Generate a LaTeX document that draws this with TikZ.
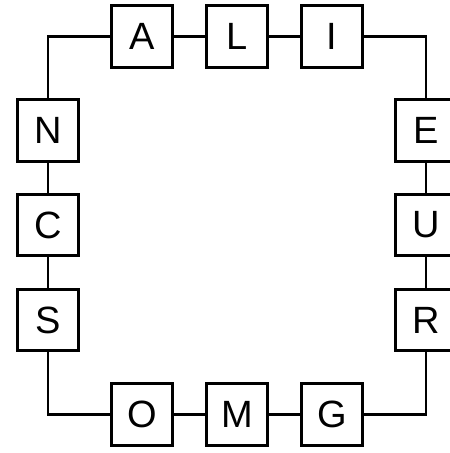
\documentclass[tikz,border=0pt]{standalone}
\usepackage{fontspec}
\setmainfont{Liberation Sans}
\begin{document}
\begin{tikzpicture}[x=1pt,y=-1pt,
  lbox/.style={draw,line width=2.6pt,minimum size=61.5pt,inner sep=0pt,font=\fontsize{38}{40}\selectfont,fill=white},
  link/.style={line width=2.6pt}]
\useasboundingbox (0,0) rectangle (450,453);
\clip (0,0) rectangle (450,453);
\node[lbox] (A) at (142,36.5) {A};
\node[lbox] (L) at (237,36.5) {L};
\node[lbox] (I) at (332,36.5) {I};
\node[lbox] (N) at (48,130.5) {N};
\node[lbox] (C) at (48,225) {C};
\node[lbox] (S) at (48,320) {S};
\node[lbox] (E) at (426,130.5) {E};
\node[lbox] (U) at (426,225) {U};
\node[lbox] (R) at (426,320) {R};
\node[lbox] (O) at (142,414.5) {O};
\node[lbox] (M) at (237,414.5) {M};
\node[lbox] (G) at (332,414.5) {G};
\draw[link] (A) -- (L);
\draw[link] (L) -- (I);
\draw[link] (O) -- (M);
\draw[link] (M) -- (G);
\draw[link] (N) -- (C);
\draw[link] (C) -- (S);
\draw[link] (E) -- (U);
\draw[link] (U) -- (R);
\draw[link,line cap=rect] (A.west) -| (N.north);
\draw[link] (I.east) -| (E.north);
\draw[link] (S.south) |- (O.west);
\draw[link] (R.south) |- (G.east);
\end{tikzpicture}
\end{document}
